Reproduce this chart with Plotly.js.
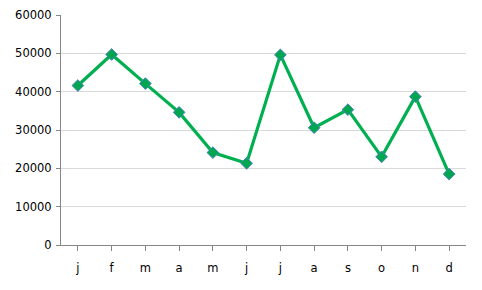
<!DOCTYPE html>
<html><head><meta charset="utf-8">
<script src="https://cdn.plot.ly/plotly-3.0.1.min.js"></script>
<style>html,body{margin:0;padding:0;background:#fff;}#chart{width:482px;height:290px;}</style>
</head><body><div id="chart"></div>
<script>
const months = ["j","f","m","a","m","j","j","a","s","o","n","d"];
const values = [41600, 49700, 42100, 34600, 24100, 21300, 49600, 30600, 35300, 23000, 38700, 18500];
const yTicks = [0, 10000, 20000, 30000, 40000, 50000, 60000];

const xIdx = months.map((_, i) => i);
const trace = {
  x: xIdx, y: values, type: "scatter", mode: "lines+markers",
  line: {color: "#00B050", width: 3.2},
  marker: {symbol: "diamond", size: 9, color: "#00A650", line: {color: "#4F81BD", width: 1}},
  hoverinfo: "none"
};
const layout = {
  width: 482, height: 290,
  margin: {l: 61, r: 16, t: 15, b: 44.5},
  paper_bgcolor: "#fff", plot_bgcolor: "#fff",
  showlegend: false,
  font: {family: "DejaVu Sans, Verdana, sans-serif", size: 11.5, color: "#000"},
  xaxis: {
    range: [-0.5, 11.5], tickmode: "array", tickvals: xIdx, ticktext: months,
    showgrid: false, zeroline: false, showline: true, linecolor: "#868686", linewidth: 1,
    ticks: "outside", tickson: "boundaries", ticklen: 5, tickcolor: "#868686",
    ticklabelstandoff: 7, fixedrange: true
  },
  yaxis: {
    range: [0, 60000], tickmode: "array", tickvals: yTicks, ticktext: yTicks.map(String),
    showgrid: true, gridcolor: "#d9d9d9", gridwidth: 1, zeroline: false,
    showline: true, linecolor: "#868686", linewidth: 1,
    ticks: "outside", ticklen: 4, tickcolor: "#868686", ticklabelstandoff: 2, fixedrange: true
  }
};
Plotly.newPlot("chart", [trace], layout, {staticPlot: true, displayModeBar: false});
</script></body></html>
